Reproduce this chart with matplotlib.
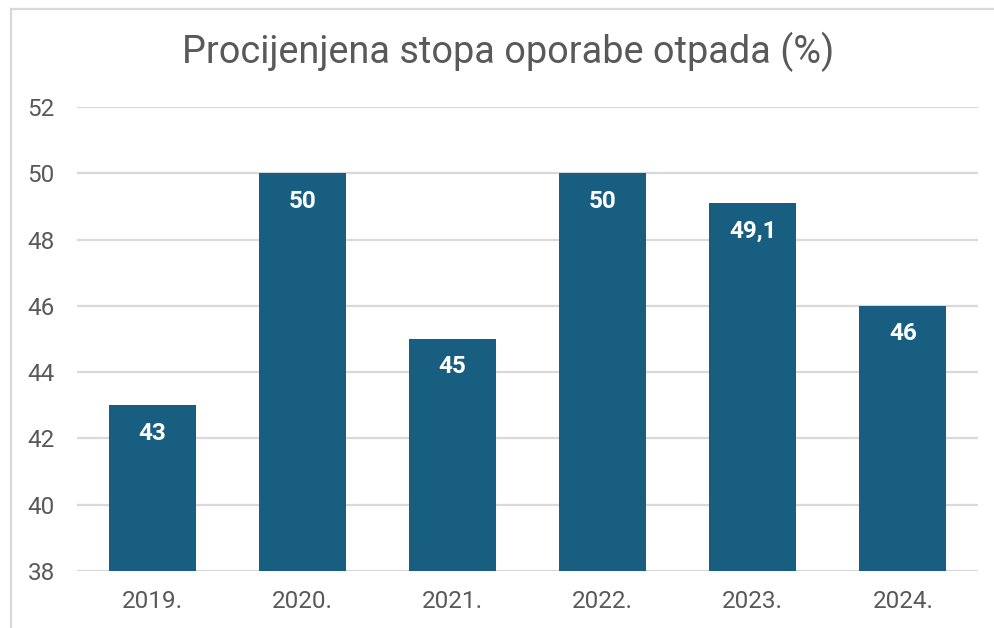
import matplotlib
matplotlib.use("Agg")
import matplotlib.pyplot as plt
from matplotlib.lines import Line2D

years = ["2019.", "2020.", "2021.", "2022.", "2023.", "2024."]
values = [43, 50, 45, 50, 49.1, 46]
labels = ["43", "50", "45", "50", "49,1", "46"]
yticks = [38, 40, 42, 44, 46, 48, 50, 52]

plt.rcParams['font.family'] = ['Roboto', 'DejaVu Sans']

W, H = 995, 628
fig = plt.figure(figsize=(W / 100, H / 100), dpi=100)
fig.patch.set_facecolor("white")

# axes placement in pixels
left, right = 77, 978
top, bottom = 107, 571
ax = fig.add_axes([left / W, 1 - bottom / H, (right - left) / W, (bottom - top) / H])

bar_color = "#175E80"
text_color = "#595959"
grid_color = "#D9D9D9"

x = list(range(len(years)))
bars = ax.bar(x, [v - 38 for v in values], bottom=38, width=0.58, color=bar_color, zorder=3)

ax.set_xlim(-0.5, len(years) - 0.5)
ax.set_ylim(38, 52)
ax.set_yticks(yticks)
ax.set_yticklabels([str(t) for t in yticks])
ax.set_xticks(x)
ax.set_xticklabels(years)
ax.tick_params(axis="both", length=0, labelsize=17.5, labelcolor=text_color)
ax.tick_params(axis="y", pad=16)
ax.tick_params(axis="x", pad=14)
ax.grid(axis="y", color=grid_color, linewidth=1.6, zorder=0)
ax.set_axisbelow(True)
for s in ax.spines.values():
    s.set_visible(False)

for xi, v, lab in zip(x, values, labels):
    ax.annotate(lab, (xi, v), xytext=(0, -20), textcoords="offset points",
                ha="center", va="center", color="white", fontsize=17.5, fontweight="bold")

fig.text(508 / W, 1 - 52 / H, "Procijenjena stopa oporabe otpada (%)",
         ha="center", va="center", fontsize=27.3, color=text_color)

# outer frame (top and left edges visible)
fig.add_artist(Line2D([11 / W, 11 / W], [0, 1 - 9 / H], transform=fig.transFigure,
                      color=grid_color, linewidth=1.6))
fig.add_artist(Line2D([11 / W, 1], [1 - 9 / H, 1 - 9 / H], transform=fig.transFigure,
                      color=grid_color, linewidth=1.6))

fig.savefig("out.png", dpi=100, facecolor="white")
